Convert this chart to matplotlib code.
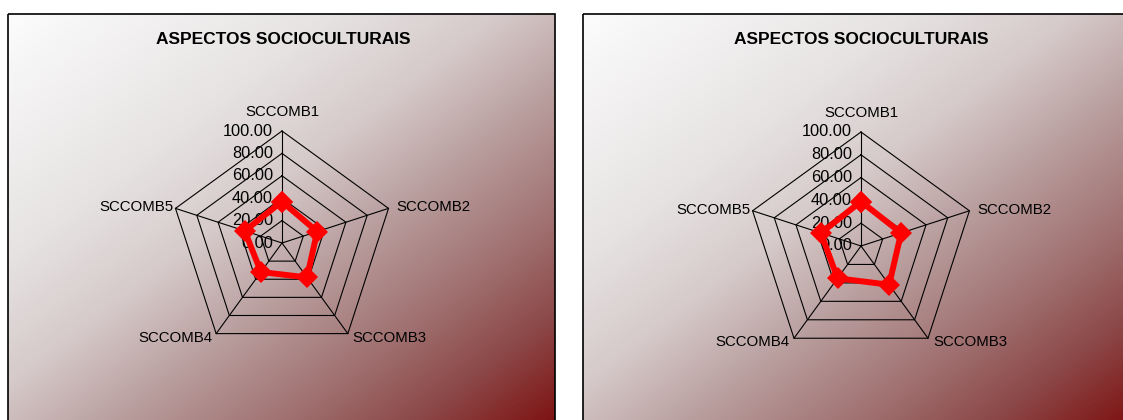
import numpy as np
import matplotlib
matplotlib.use("Agg")
import matplotlib.pyplot as plt
from matplotlib.colors import LinearSegmentedColormap
from matplotlib.patches import Rectangle

plt.rcParams['font.family'] = ['Liberation Sans', 'DejaVu Sans']

categories = ["SCCOMB1", "SCCOMB2", "SCCOMB3", "SCCOMB4", "SCCOMB5"]
left_values = [37, 33, 38, 32, 35]
right_values = [39, 37, 42, 35, 37]
ticks = [0, 20, 40, 60, 80, 100]
tick_labels = ["0.00", "20.00", "40.00", "60.00", "80.00", "100.00"]
title = "ASPECTOS SOCIOCULTURAIS"

W, H = 1123, 420
fig = plt.figure(figsize=(W / 100, H / 100), dpi=100)
fig.patch.set_facecolor("white")

# background panels with diagonal gradient
bg = fig.add_axes([0, 0, 1, 1])
bg.set_xlim(0, W)
bg.set_ylim(H, 0)
bg.axis("off")

cmap = LinearSegmentedColormap.from_list(
    "wr", [(0.0, "#fcfcfc"), (0.3, "#e6e2e2"), (0.45, "#d6caca"),
           (0.6, "#b89c9c"), (0.75, "#a07070"), (0.87, "#8c4848"),
           (1.0, "#7e1212")])
gy, gx = np.mgrid[0:1:200j, 0:1:300j]
grad = (gx + gy) / 2

panels = [(8, 555), (583, 1131)]
y0, y1 = 14, 425
for x0, x1 in panels:
    bg.imshow(grad, cmap=cmap, vmin=0, vmax=1, extent=(x0, x1, y1, y0),
              aspect="auto", interpolation="bilinear", zorder=0)
    bg.add_patch(Rectangle((x0, y0), x1 - x0, y1 - y0, fill=False,
                           edgecolor="black", lw=1.2, zorder=2))


def radar(cx, cy, rad, values):
    S = 1.6
    half = rad * S
    ax = fig.add_axes([(cx - half) / W, 1 - (cy + half) / H,
                       2 * half / W, 2 * half / H])
    ax.set_xlim(-100 * S, 100 * S)
    ax.set_ylim(-100 * S, 100 * S)
    ax.axis("off")
    ax.patch.set_alpha(0)

    n = len(categories)
    ang = np.arange(n) * 2 * np.pi / n
    sx, sy = np.sin(ang), np.cos(ang)

    for t in ticks[1:]:
        ax.plot(np.append(sx, sx[0]) * t, np.append(sy, sy[0]) * t,
                color="black", lw=0.8, zorder=1)
    for i in range(n):
        ax.plot([0, sx[i] * 100], [0, sy[i] * 100], color="black", lw=0.8, zorder=1)

    for t, lab in zip(ticks, tick_labels):
        ax.annotate(lab, (0, t), xytext=(-6.5, 0), textcoords="offset points",
                    ha="right", va="center", fontsize=11.8, zorder=3)

    offs = [((0, 14), "center"), ((5.5, 0.7), "left"), ((3.5, -3), "left"),
            ((-3, -3), "right"), ((-1.5, 0.7), "right")]
    for i, (off, ha) in enumerate(offs):
        ax.annotate(categories[i], (sx[i] * 100, sy[i] * 100), xytext=off,
                    textcoords="offset points", ha=ha, va="center",
                    fontsize=10.8, zorder=3)

    v = np.array(values, dtype=float)
    ax.plot(np.append(sx * v, sx[0] * v[0]), np.append(sy * v, sy[0] * v[0]),
            color="#ff0000", lw=4.3, marker="D", markersize=11,
            markeredgewidth=0, zorder=4)


radar(282, 243, 112, left_values)
radar(861, 246, 114, right_values)

fig.text(283 / W, 1 - 39 / H, title, ha="center", va="center",
         fontsize=12.5, fontweight="bold")
fig.text(861 / W, 1 - 39 / H, title, ha="center", va="center",
         fontsize=12.5, fontweight="bold")

fig.savefig("out.png", dpi=100)
